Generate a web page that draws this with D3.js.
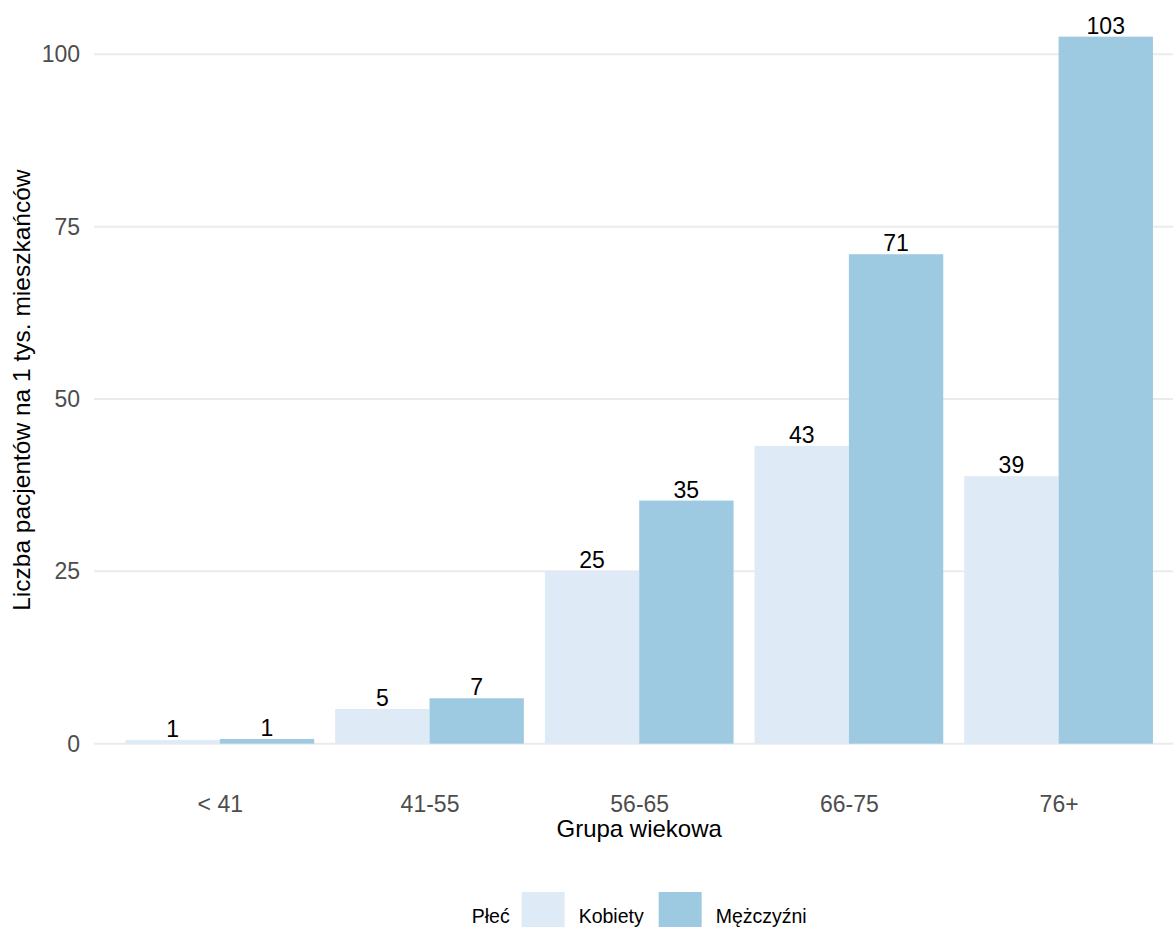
<!DOCTYPE html>
<html>
<head>
<meta charset="utf-8">
<script src="https://cdn.jsdelivr.net/npm/d3@7"></script>
<style>
  body { margin: 0; background: #fff; }
  svg { display: block; font-family: Arial, "Liberation Sans", sans-serif; }
</style>
</head>
<body>
<div id="chart"></div>
<script>
var categories = ['< 41', '41-55', '56-65', '66-75', '76+'];
var seriesNames = ['Kobiety', 'Mężczyźni'];
var kobiety = [0.52, 5.03, 25.07, 43.2, 38.8];
var mezczyzni = [0.68, 6.58, 35.26, 71.0, 102.56];
var yTicks = [0, 25, 50, 75, 100];
var colors = ['#deebf7', '#9ecae1'];

var width = 1173,
    height = 927;

var panel = { left: 94, right: 1184.4, top: 1.3, bottom: 779 };

var rows = [];
categories.forEach(function (c, i) {
    rows.push({ cat: c, series: seriesNames[0], value: kobiety[i] });
    rows.push({ cat: c, series: seriesNames[1], value: mezczyzni[i] });
});

var maxVal = d3.max(rows, function (d) { return d.value; });

var yScale = d3.scaleLinear()
    .domain([-0.05 * maxVal, maxVal * 1.05])
    .range([panel.bottom, panel.top]);

var xScale = d3.scalePoint()
    .domain(categories)
    .range([panel.left, panel.right])
    .padding(0.6);

var groupWidth = xScale.step() * 0.9;

var xInner = d3.scaleBand()
    .domain(seriesNames)
    .range([-groupWidth / 2, groupWidth / 2]);

var color = d3.scaleOrdinal()
    .domain(seriesNames)
    .range(colors);

var svg = d3.select('#chart').append('svg')
    .attr('width', width)
    .attr('height', height);

// gridlines
svg.append('g')
    .selectAll('line').data(yTicks)
    .enter().append('line')
    .attr('x1', panel.left)
    .attr('x2', panel.right)
    .attr('y1', function (d) { return yScale(d); })
    .attr('y2', function (d) { return yScale(d); })
    .style('stroke', '#ebebeb')
    .style('stroke-width', 2);

// y tick labels
var yAxis = d3.axisLeft(yScale)
    .tickValues(yTicks)
    .tickSize(0)
    .tickPadding(14);

var yAxisG = svg.append('g')
    .attr('transform', 'translate(' + panel.left + ',0)')
    .call(yAxis);
yAxisG.select('.domain').remove();
yAxisG.selectAll('text')
    .style('font-size', '23px')
    .style('fill', '#4d4d4d')
    .style('font-family', 'Arial, "Liberation Sans", sans-serif');

// x tick labels
var xAxis = d3.axisBottom(xScale)
    .tickSize(0)
    .tickPadding(0);

var xAxisG = svg.append('g')
    .attr('transform', 'translate(0,' + panel.bottom + ')')
    .call(xAxis);
xAxisG.select('.domain').remove();
xAxisG.selectAll('text')
    .attr('dy', null)
    .attr('y', 33)
    .style('font-size', '23px')
    .style('fill', '#4d4d4d')
    .style('font-family', 'Arial, "Liberation Sans", sans-serif');

// bars
svg.append('g')
    .selectAll('rect').data(rows)
    .enter().append('rect')
    .attr('x', function (d) { return xScale(d.cat) + xInner(d.series); })
    .attr('width', xInner.bandwidth())
    .attr('y', function (d) { return yScale(d.value); })
    .attr('height', function (d) { return yScale(0) - yScale(d.value); })
    .style('fill', function (d) { return color(d.series); });

// value labels
svg.append('g')
    .selectAll('text').data(rows)
    .enter().append('text')
    .attr('x', function (d) { return xScale(d.cat) + xInner(d.series) + xInner.bandwidth() / 2; })
    .attr('y', function (d) { return yScale(d.value) - 3; })
    .attr('text-anchor', 'middle')
    .style('font-size', '23px')
    .style('fill', '#000')
    .text(function (d) { return Math.round(d.value); });

// axis titles
var midX = (panel.left + panel.right) / 2;
svg.append('text')
    .attr('x', midX)
    .attr('y', 837)
    .attr('text-anchor', 'middle')
    .style('font-size', '24px')
    .style('fill', '#000')
    .text('Grupa wiekowa');

svg.append('text')
    .attr('transform', 'translate(30,' + (panel.top + panel.bottom) / 2 + ') rotate(-90)')
    .attr('text-anchor', 'middle')
    .style('font-size', '24.5px')
    .style('fill', '#000')
    .text('Liczba pacjentów na 1 tys. mieszkańców');

// legend
var legend = svg.append('g');
var keySize = 43,
    legendBase = 923,
    keyTop = 892;

var title = legend.append('text')
    .attr('y', legendBase)
    .style('font-size', '19.5px')
    .style('fill', '#000')
    .text('Płeć');

var cursor = title.node().getComputedTextLength() + 12;
seriesNames.forEach(function (name) {
    legend.append('rect')
        .attr('x', cursor)
        .attr('y', keyTop)
        .attr('width', keySize)
        .attr('height', keySize)
        .style('fill', color(name));
    cursor += keySize + 14;
    var t = legend.append('text')
        .attr('x', cursor)
        .attr('y', legendBase)
        .style('font-size', '19.5px')
        .style('fill', '#000')
        .text(name);
    cursor += t.node().getComputedTextLength() + 15;
});
cursor -= 15;
legend.attr('transform', 'translate(' + (midX - cursor / 2) + ',0)');
</script>
</body>
</html>
